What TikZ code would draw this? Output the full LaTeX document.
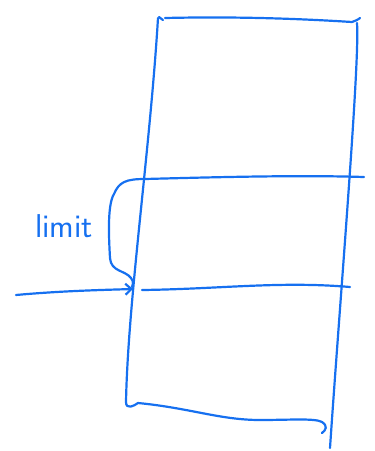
\documentclass[tikz,border=0pt]{standalone}
\usepackage{tikz}
\usetikzlibrary{arrows.meta}
\definecolor{penblue}{RGB}{22,112,240}
\tikzset{
  pen stroke/.style={
    draw=penblue,
    line width=2.2pt,        % felt pen thickness
    line cap=round,
    line join=round,
  }
}

\begin{document}
\begin{tikzpicture}[x=1pt, y=-1pt]
    \useasboundingbox (0,0) rectangle (375,451);
    \tikzset{every path/.style={pen stroke}}

    % Corners of the stack box
    \coordinate (topleft) at (158,18);
    \coordinate (topright) at (357,23);
    \coordinate (botleft) at (126,402);
    \coordinate (botright) at (330,448);

    % Outer frame
    \draw (topleft) .. controls (150,150) and (128,300) .. (botleft)
          .. controls (126,410) and (134,406) .. (138,403)
          .. controls (190,408) and (220,420) .. (260,420)
          .. controls (290,420) and (315,418) .. (322,422)
          .. controls (328,426) and (326,430) .. (322,433);
    \draw (165,18) .. controls (250,16) and (320,20) .. (352,22)
          .. controls (358,20) and (360,18) .. (360,18);
    \draw (topright) .. controls (360,60) and (340,300) .. (botright);
    \draw (159,17) -- (163,20);

    % Rows
    \coordinate (row1l) at (145,179);
    \coordinate (row1r) at (364,177);
    \coordinate (row2l) at (142,290);
    \coordinate (row2r) at (350,287);
    \draw (row1l) .. controls (220,177) and (300,175) .. (row1r);
    \draw (row2l) .. controls (220,289) and (280,281) .. (row2r);

    % Brace for the limit
    \draw (row1l) .. controls (126,179) and (119,182) .. (114,194)
          .. controls (107,205) and (109,240) .. (110,258)
          .. controls (111,272) and (125,270) .. (131,278)
          .. controls (134,282) and (133,285) .. (132,287);
    \node[text=penblue, font=\sffamily\fontsize{33}{33}\selectfont, inner sep=0pt]
        (limit) at (64,226) {limit};

    % Incoming pointer
    \coordinate (src) at (16,295);
    \coordinate (dst) at (133,289);
    \draw[-{Straight Barb[length=6pt,width=11pt]}] (src) .. controls (60,291) and (100,290) .. (dst);
\end{tikzpicture}
\end{document}
